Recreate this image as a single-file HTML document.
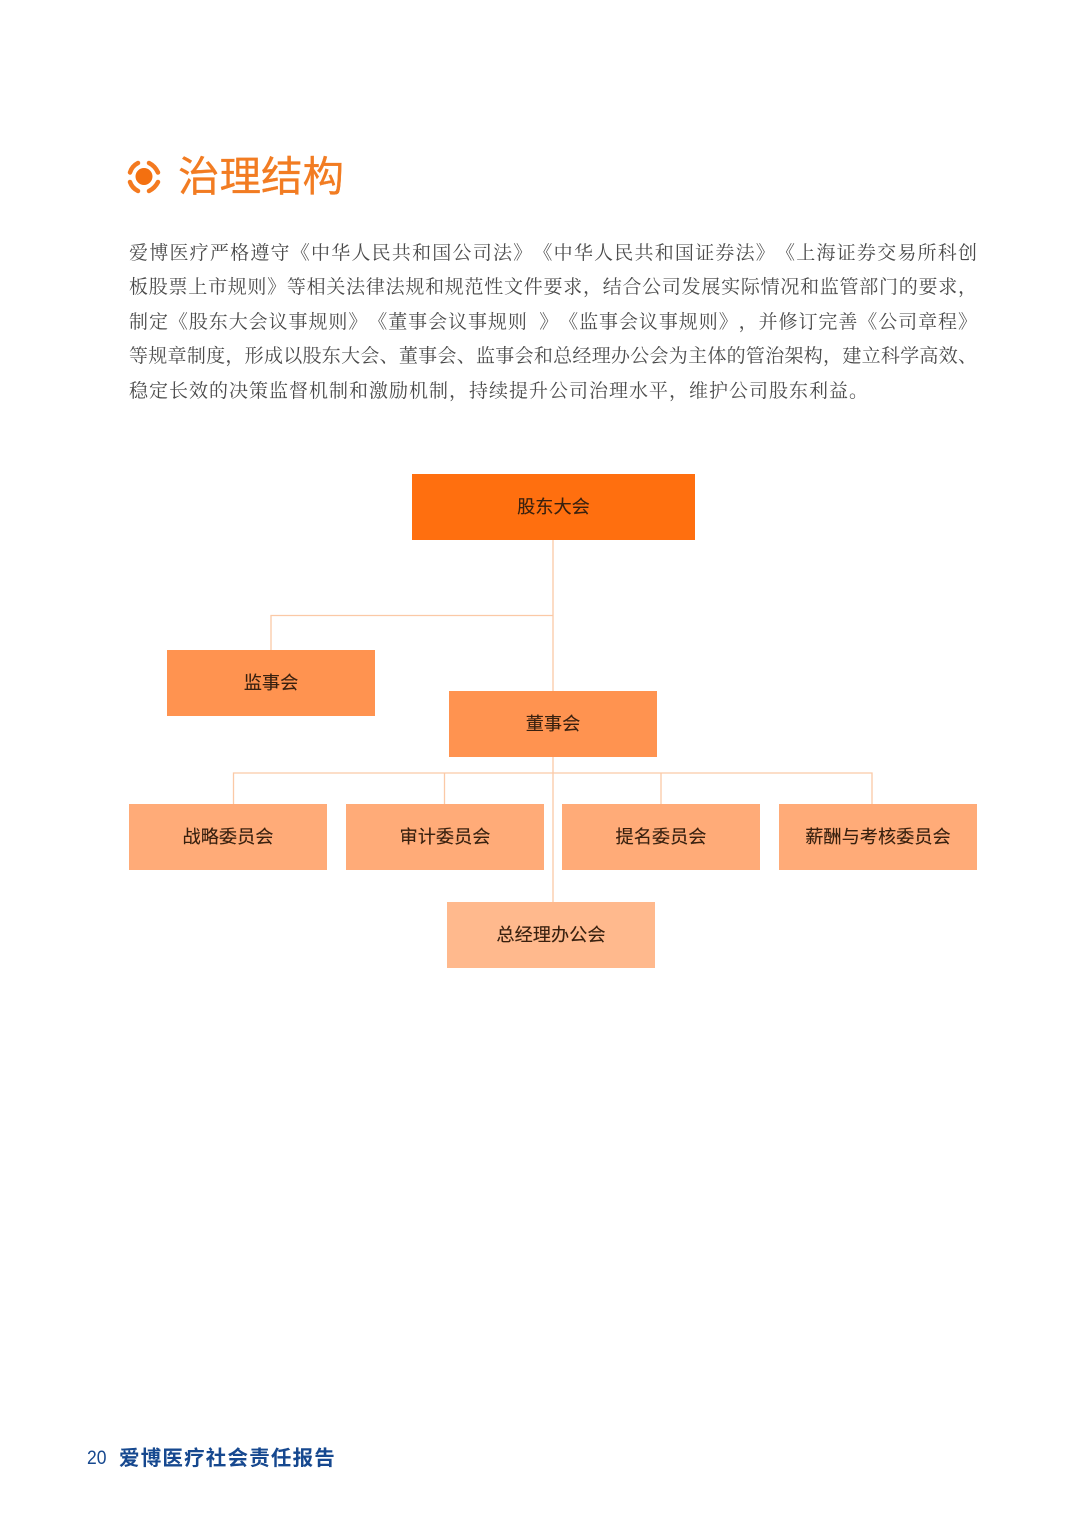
<!DOCTYPE html>
<html lang="zh">
<head>
<meta charset="utf-8">
<style>
html,body{margin:0;padding:0;background:#fff}
#p{position:relative;width:1080px;height:1528px;overflow:hidden;background:#fff}
.t{position:absolute;white-space:nowrap}
.title{left:178px;top:147px;font:400 41.5px/60px "Liberation Sans","Noto Sans CJK SC",sans-serif;color:#f27c22;-webkit-text-stroke:.3px #f27c22}
.l{position:absolute;left:129px;width:848px;height:34px;font:400 19px/34px "Liberation Serif","Noto Serif CJK SC",serif;color:#4a4a4a;text-align:justify;text-align-last:justify;white-space:nowrap;text-spacing-trim:space-all}
.b{position:absolute;display:flex;align-items:center;justify-content:center;font:400 18.2px/1 "Liberation Sans","Noto Sans CJK SC",sans-serif;color:#38200f;height:66px;box-sizing:border-box;padding-top:1px;-webkit-text-stroke:.12px #38200f}
.foot{left:119px;top:1443px;font:700 20.5px/32px "Liberation Sans","Noto Sans CJK SC",sans-serif;color:#16488f;letter-spacing:1.2px}
.num{left:87px;top:1443px;font:400 19px/32px "Liberation Sans",sans-serif;color:#16488f;transform-origin:left center;transform:scaleX(.92)}
svg{position:absolute;left:0;top:0}
</style>
</head>
<body>
<div id="p">
<svg width="1080" height="1528" viewBox="0 0 1080 1528">
  <g fill="none" stroke="#f47a20" stroke-width="4.500" stroke-linecap="round">
    <path d="M130 172.500 Q132 166 138 163"/>
    <path d="M149 163 Q155 166 158 172.500"/>
    <path d="M158 182 Q155 188 149 191"/>
    <path d="M138 191 Q132 188 130 182"/>
  </g>
  <circle cx="144" cy="176.500" r="8.500" fill="#f47010"/>
  <g fill="none" stroke="#fbc9a6" stroke-width="1.3">
    <path d="M553 540V902"/>
    <path d="M271 650V615.500H553"/>
    <path d="M233.500 804V773H872V804"/>
    <path d="M444.500 773V804M661 773V804"/>
  </g>
</svg>

<div class="t title">治理结构</div>

<div class="l" style="top:237px">爱博医疗严格遵守《中华人民共和国公司法》《中华人民共和国证券法》《上海证券交易所科创</div>
<div class="l" style="top:271px">板股票上市规则》等相关法律法规和规范性文件要求，结合公司发展实际情况和监管部门的要求，</div>
<div class="l" style="top:306px">制定《股东大会议事规则》《董事会议事规则&nbsp; 》《监事会议事规则》，并修订完善《公司章程》</div>
<div class="l" style="top:340px">等规章制度，形成以股东大会、董事会、监事会和总经理办公会为主体的管治架构，建立科学高效、</div>
<div class="l" style="top:375px;width:auto;text-align:left;text-align-last:left;letter-spacing:1px">稳定长效的决策监督机制和激励机制，持续提升公司治理水平，维护公司股东利益。</div>

<div class="b" style="left:412px;top:474px;width:283px;background:#ff6f0f">股东大会</div>
<div class="b" style="left:167px;top:650px;width:208px;background:#ff9350">监事会</div>
<div class="b" style="left:449px;top:691px;width:208px;background:#ff9350">董事会</div>
<div class="b" style="left:129px;top:804px;width:198px;background:#ffab78">战略委员会</div>
<div class="b" style="left:346px;top:804px;width:198px;background:#ffab78">审计委员会</div>
<div class="b" style="left:562px;top:804px;width:198px;background:#ffab78">提名委员会</div>
<div class="b" style="left:779px;top:804px;width:198px;background:#ffab78">薪酬与考核委员会</div>
<div class="b" style="left:447px;top:902px;width:208px;background:#ffb98d">总经理办公会</div>

<div class="t num">20</div>
<div class="t foot">爱博医疗社会责任报告</div>
</div>
</body>
</html>
